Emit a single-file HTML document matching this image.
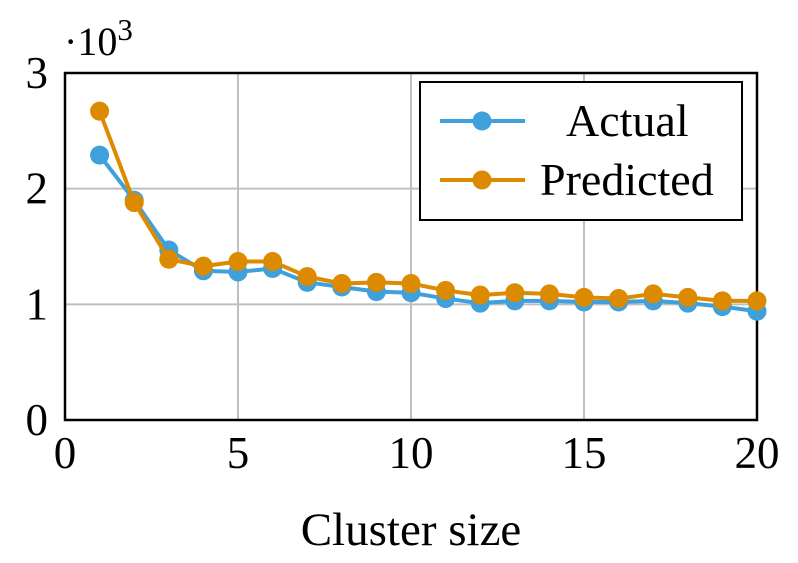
<!DOCTYPE html>
<html><head><meta charset="utf-8"><style>
body{margin:0;background:#fff;}
svg text{font-family:"Liberation Serif",serif;fill:#000;}
</style></head><body>
<svg width="798" height="558" id="c">
</svg>
<script>
const categories=[1,2,3,4,5,6,7,8,9,10,11,12,13,14,15,16,17,18,19,20];
const actual=[2.29,1.90,1.47,1.29,1.28,1.31,1.19,1.15,1.11,1.10,1.05,1.01,1.03,1.03,1.02,1.02,1.03,1.01,0.98,0.94];
const predicted=[2.67,1.88,1.39,1.33,1.37,1.37,1.24,1.18,1.19,1.18,1.12,1.08,1.10,1.09,1.06,1.05,1.09,1.06,1.03,1.03];
const xTicks=[0,5,10,15,20];
const yTicks=[0,1,2,3];
const NS="http://www.w3.org/2000/svg";
const svg=document.getElementById('c');
const L=65,R=757,T=73,B=420;
const xs=v=>L+(v-0)/(20-0)*(R-L);
const ys=v=>B-(v/3)*(B-T);
function mk(tag,attrs,parent){const e=document.createElementNS(NS,tag);for(const k in attrs)e.setAttribute(k,attrs[k]);(parent||svg).appendChild(e);return e;}
xTicks.forEach(t=>{if(t>0&&t<20){const g=mk('line',{x1:xs(t),x2:xs(t),y1:T,y2:B,stroke:'#bfbfbf','stroke-width':2});

}});
yTicks.forEach(t=>{if(t>0&&t<3){const g=mk('line',{x1:L,x2:R,y1:ys(t),y2:ys(t),stroke:'#bfbfbf','stroke-width':2});

}});
const frame=mk('rect',{x:L,y:T,width:R-L,height:B-T,fill:'none',stroke:'#000','stroke-width':2.5});


xTicks.forEach(t=>{const tx=mk('text',{x:xs(t),y:468,'font-size':45,'text-anchor':'middle'});tx.textContent=t;

});
yTicks.forEach(t=>{const tx=mk('text',{x:48,y:ys(t)+15,'font-size':45,'text-anchor':'end'});tx.textContent=t;

});
const sc=mk('text',{x:64,y:55,'font-size':40});sc.innerHTML='·10<tspan dy="-15" font-size="31">3</tspan>';


const xt=mk('text',{x:411,y:545,'font-size':47,'text-anchor':'middle'});xt.textContent='Cluster size';


function series(vals,color,name){
 const g=mk('g',{});
 
 
 const pts=vals.map((v,i)=>xs(categories[i])+','+ys(v)).join(' ');
 mk('polyline',{points:pts,fill:'none',stroke:color,'stroke-width':4},g);
 vals.forEach((v,i)=>{const c=mk('circle',{cx:xs(categories[i]),cy:ys(v),r:9.5,fill:color},g);
 
 });
}
series(actual,'#3fa0dc','actual');
series(predicted,'#dc8a00','predicted');
const lg=mk('g',{});


mk('rect',{x:420,y:82,width:322,height:138,fill:'#fff',stroke:'#000','stroke-width':2},lg);
[['Actual','#3fa0dc',121,566],['Predicted','#dc8a00',180,540]].forEach(([n,c,y,tx])=>{
 mk('line',{x1:440,x2:525,y1:y,y2:y,stroke:c,'stroke-width':4},lg);
 mk('circle',{cx:482,cy:y,r:9.5,fill:c},lg);
 const t=mk('text',{x:tx,y:y+15,'font-size':46},lg);t.textContent=n;
 
 
});
</script>
</body></html>
